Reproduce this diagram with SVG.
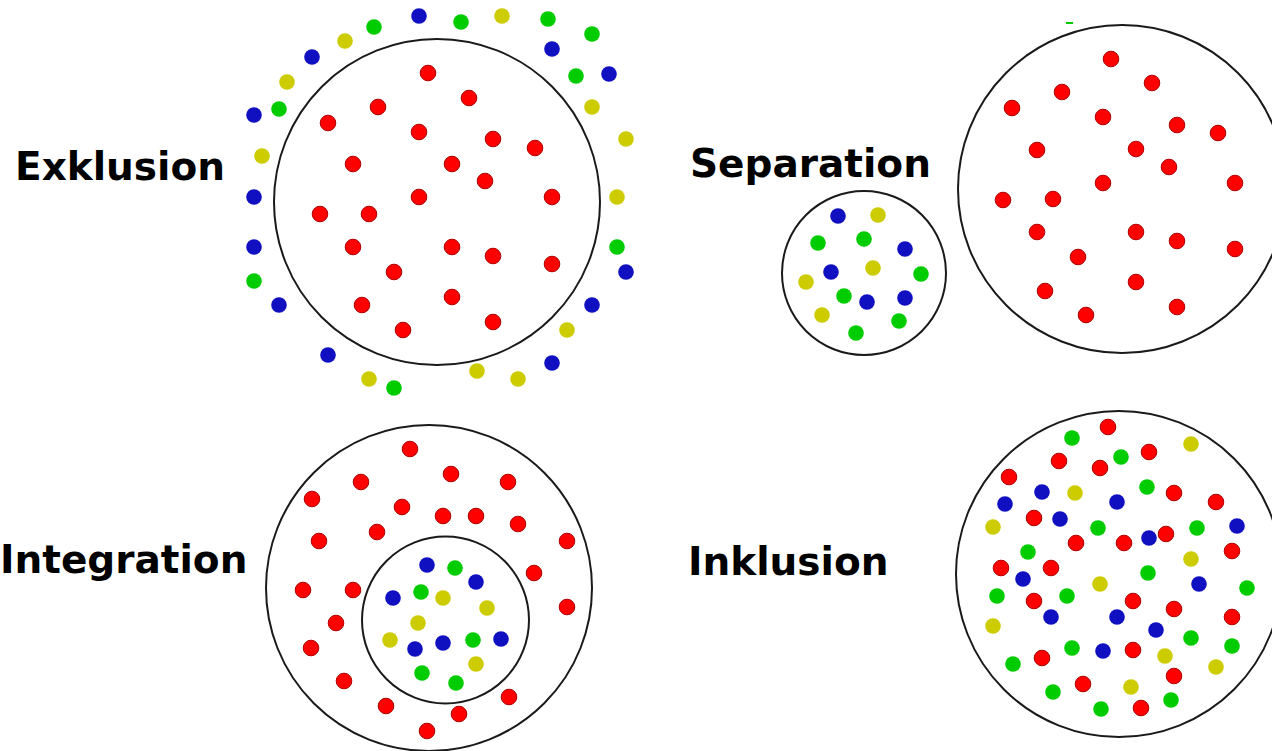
<svg xmlns="http://www.w3.org/2000/svg" width="1272" height="751" viewBox="0 0 1272 751">
<style>
.ring{fill:none;stroke:#1a1a1a;stroke-width:2}
.lbl{font-family:"DejaVu Sans",sans-serif;font-weight:bold;font-size:39px;fill:#000}
.r{fill:#ff0000;stroke:#b00000;stroke-width:1}
.g{fill:#00cc00}
.b{fill:#1010c0}
.y{fill:#cccc00}
circle.r,circle.g,circle.b,circle.y{r:7.8px}
</style>
<rect width="1272" height="751" fill="#fff"/>
<g id="exklusion">
<text class="lbl" x="15" y="180">Exklusion</text>
<circle class="ring" cx="437" cy="202" r="163"/>
<g>
<circle class="b" cx="419" cy="16" r="7.8"/><circle class="g" cx="374" cy="27" r="7.8"/><circle class="y" cx="345" cy="41" r="7.8"/><circle class="b" cx="312" cy="57" r="7.8"/><circle class="y" cx="287" cy="82" r="7.8"/><circle class="g" cx="279" cy="109" r="7.8"/><circle class="b" cx="254" cy="115" r="7.8"/><circle class="y" cx="262" cy="156" r="7.8"/><circle class="b" cx="254" cy="197" r="7.8"/><circle class="b" cx="254" cy="247" r="7.8"/><circle class="g" cx="254" cy="281" r="7.8"/><circle class="b" cx="279" cy="305" r="7.8"/><circle class="b" cx="328" cy="355" r="7.8"/><circle class="y" cx="369" cy="379" r="7.8"/><circle class="g" cx="394" cy="388" r="7.8"/>
<circle class="g" cx="461" cy="22" r="7.8"/><circle class="y" cx="502" cy="16" r="7.8"/><circle class="g" cx="548" cy="19" r="7.8"/><circle class="g" cx="592" cy="34" r="7.8"/><circle class="b" cx="552" cy="49" r="7.8"/><circle class="g" cx="576" cy="76" r="7.8"/><circle class="b" cx="609" cy="74" r="7.8"/><circle class="y" cx="592" cy="107" r="7.8"/><circle class="y" cx="626" cy="139" r="7.8"/><circle class="y" cx="617" cy="197" r="7.8"/><circle class="g" cx="617" cy="247" r="7.8"/><circle class="b" cx="626" cy="272" r="7.8"/><circle class="b" cx="592" cy="305" r="7.8"/><circle class="y" cx="567" cy="330" r="7.8"/><circle class="b" cx="552" cy="363" r="7.8"/><circle class="y" cx="477" cy="371" r="7.8"/><circle class="y" cx="518" cy="379" r="7.8"/>
<circle class="r" cx="428" cy="73" r="7.8"/><circle class="r" cx="378" cy="107" r="7.8"/><circle class="r" cx="328" cy="123" r="7.8"/><circle class="r" cx="419" cy="132" r="7.8"/><circle class="r" cx="353" cy="164" r="7.8"/><circle class="r" cx="419" cy="197" r="7.8"/><circle class="r" cx="469" cy="98" r="7.8"/><circle class="r" cx="493" cy="139" r="7.8"/><circle class="r" cx="535" cy="148" r="7.8"/><circle class="r" cx="452" cy="164" r="7.8"/><circle class="r" cx="485" cy="181" r="7.8"/><circle class="r" cx="552" cy="197" r="7.8"/><circle class="r" cx="320" cy="214" r="7.8"/><circle class="r" cx="369" cy="214" r="7.8"/><circle class="r" cx="353" cy="247" r="7.8"/><circle class="r" cx="394" cy="272" r="7.8"/><circle class="r" cx="362" cy="305" r="7.8"/><circle class="r" cx="403" cy="330" r="7.8"/><circle class="r" cx="452" cy="247" r="7.8"/><circle class="r" cx="493" cy="256" r="7.8"/><circle class="r" cx="552" cy="264" r="7.8"/><circle class="r" cx="452" cy="297" r="7.8"/><circle class="r" cx="493" cy="322" r="7.8"/>
</g>
</g>
<g id="separation">
<text class="lbl" x="690" y="177">Separation</text>
<circle class="ring" cx="864" cy="273" r="82"/>
<circle class="ring" cx="1122" cy="189" r="164"/>
<rect x="1066" y="22" width="7" height="2" fill="#00cc00"/>
<g>
<circle class="b" cx="838" cy="216" r="7.8"/><circle class="y" cx="878" cy="215" r="7.8"/><circle class="g" cx="818" cy="243" r="7.8"/><circle class="g" cx="864" cy="239" r="7.8"/><circle class="b" cx="905" cy="249" r="7.8"/><circle class="b" cx="831" cy="272" r="7.8"/><circle class="y" cx="873" cy="268" r="7.8"/><circle class="g" cx="921" cy="274" r="7.8"/><circle class="y" cx="806" cy="282" r="7.8"/><circle class="g" cx="844" cy="296" r="7.8"/><circle class="b" cx="867" cy="302" r="7.8"/><circle class="b" cx="905" cy="298" r="7.8"/><circle class="y" cx="822" cy="315" r="7.8"/><circle class="g" cx="899" cy="321" r="7.8"/><circle class="g" cx="856" cy="333" r="7.8"/>
<circle class="r" cx="1111" cy="59" r="7.8"/><circle class="r" cx="1152" cy="83" r="7.8"/><circle class="r" cx="1062" cy="92" r="7.8"/><circle class="r" cx="1012" cy="108" r="7.8"/><circle class="r" cx="1103" cy="117" r="7.8"/><circle class="r" cx="1177" cy="125" r="7.8"/><circle class="r" cx="1218" cy="133" r="7.8"/><circle class="r" cx="1037" cy="150" r="7.8"/><circle class="r" cx="1136" cy="149" r="7.8"/><circle class="r" cx="1169" cy="167" r="7.8"/><circle class="r" cx="1103" cy="183" r="7.8"/><circle class="r" cx="1235" cy="183" r="7.8"/><circle class="r" cx="1003" cy="200" r="7.8"/><circle class="r" cx="1053" cy="199" r="7.8"/><circle class="r" cx="1037" cy="232" r="7.8"/><circle class="r" cx="1136" cy="232" r="7.8"/><circle class="r" cx="1177" cy="241" r="7.8"/><circle class="r" cx="1235" cy="249" r="7.8"/><circle class="r" cx="1078" cy="257" r="7.8"/><circle class="r" cx="1045" cy="291" r="7.8"/><circle class="r" cx="1136" cy="282" r="7.8"/><circle class="r" cx="1086" cy="315" r="7.8"/><circle class="r" cx="1177" cy="307" r="7.8"/>
</g>
</g>
<g id="integration">
<text class="lbl" x="0" y="573">Integration</text>
<circle class="ring" cx="429" cy="588" r="163"/>
<circle class="ring" cx="445.5" cy="620" r="83.5"/>
<g>
<circle class="r" cx="410" cy="449" r="7.8"/><circle class="r" cx="451" cy="474" r="7.8"/><circle class="r" cx="361" cy="482" r="7.8"/><circle class="r" cx="508" cy="482" r="7.8"/><circle class="r" cx="312" cy="499" r="7.8"/><circle class="r" cx="402" cy="507" r="7.8"/><circle class="r" cx="443" cy="516" r="7.8"/><circle class="r" cx="476" cy="516" r="7.8"/><circle class="r" cx="518" cy="524" r="7.8"/><circle class="r" cx="377" cy="532" r="7.8"/><circle class="r" cx="319" cy="541" r="7.8"/><circle class="r" cx="567" cy="541" r="7.8"/><circle class="r" cx="534" cy="573" r="7.8"/><circle class="r" cx="303" cy="590" r="7.8"/><circle class="r" cx="353" cy="590" r="7.8"/><circle class="r" cx="567" cy="607" r="7.8"/><circle class="r" cx="336" cy="623" r="7.8"/><circle class="r" cx="311" cy="648" r="7.8"/><circle class="r" cx="344" cy="681" r="7.8"/><circle class="r" cx="509" cy="697" r="7.8"/><circle class="r" cx="386" cy="706" r="7.8"/><circle class="r" cx="459" cy="714" r="7.8"/><circle class="r" cx="427" cy="731" r="7.8"/>
<circle class="b" cx="427" cy="565" r="7.8"/><circle class="g" cx="455" cy="568" r="7.8"/><circle class="b" cx="476" cy="582" r="7.8"/><circle class="g" cx="421" cy="592" r="7.8"/><circle class="y" cx="443" cy="598" r="7.8"/><circle class="b" cx="393" cy="598" r="7.8"/><circle class="y" cx="487" cy="608" r="7.8"/><circle class="y" cx="418" cy="623" r="7.8"/><circle class="y" cx="390" cy="640" r="7.8"/><circle class="b" cx="415" cy="649" r="7.8"/><circle class="b" cx="443" cy="643" r="7.8"/><circle class="g" cx="473" cy="640" r="7.8"/><circle class="b" cx="501" cy="639" r="7.8"/><circle class="y" cx="476" cy="664" r="7.8"/><circle class="g" cx="422" cy="673" r="7.8"/><circle class="g" cx="456" cy="683" r="7.8"/>
</g>
</g>
<g id="inklusion">
<text class="lbl" x="688" y="575">Inklusion</text>
<circle class="ring" cx="1119" cy="574" r="163"/>
<g>
<circle class="r" cx="1108" cy="427" r="7.8"/><circle class="g" cx="1072" cy="438" r="7.8"/><circle class="y" cx="1191" cy="444" r="7.8"/><circle class="r" cx="1149" cy="452" r="7.8"/><circle class="g" cx="1121" cy="457" r="7.8"/><circle class="r" cx="1059" cy="461" r="7.8"/><circle class="r" cx="1100" cy="468" r="7.8"/><circle class="r" cx="1009" cy="477" r="7.8"/><circle class="g" cx="1147" cy="487" r="7.8"/><circle class="b" cx="1042" cy="492" r="7.8"/><circle class="y" cx="1075" cy="493" r="7.8"/><circle class="r" cx="1174" cy="493" r="7.8"/><circle class="b" cx="1117" cy="502" r="7.8"/><circle class="r" cx="1216" cy="502" r="7.8"/><circle class="b" cx="1005" cy="504" r="7.8"/><circle class="r" cx="1034" cy="518" r="7.8"/><circle class="b" cx="1060" cy="519" r="7.8"/><circle class="y" cx="993" cy="527" r="7.8"/><circle class="g" cx="1098" cy="528" r="7.8"/><circle class="g" cx="1197" cy="528" r="7.8"/><circle class="b" cx="1237" cy="526" r="7.8"/><circle class="r" cx="1166" cy="534" r="7.8"/><circle class="b" cx="1149" cy="538" r="7.8"/><circle class="r" cx="1076" cy="543" r="7.8"/><circle class="r" cx="1124" cy="543" r="7.8"/><circle class="r" cx="1232" cy="551" r="7.8"/><circle class="g" cx="1028" cy="552" r="7.8"/><circle class="y" cx="1191" cy="559" r="7.8"/><circle class="r" cx="1001" cy="568" r="7.8"/><circle class="r" cx="1051" cy="568" r="7.8"/><circle class="g" cx="1148" cy="573" r="7.8"/><circle class="b" cx="1023" cy="579" r="7.8"/><circle class="y" cx="1100" cy="584" r="7.8"/><circle class="b" cx="1199" cy="584" r="7.8"/><circle class="g" cx="1247" cy="588" r="7.8"/><circle class="g" cx="997" cy="596" r="7.8"/><circle class="g" cx="1067" cy="596" r="7.8"/><circle class="r" cx="1034" cy="601" r="7.8"/><circle class="r" cx="1133" cy="601" r="7.8"/><circle class="r" cx="1174" cy="609" r="7.8"/><circle class="b" cx="1051" cy="617" r="7.8"/><circle class="b" cx="1117" cy="617" r="7.8"/><circle class="r" cx="1232" cy="617" r="7.8"/><circle class="y" cx="993" cy="626" r="7.8"/><circle class="b" cx="1156" cy="630" r="7.8"/><circle class="g" cx="1191" cy="638" r="7.8"/><circle class="g" cx="1232" cy="646" r="7.8"/><circle class="g" cx="1072" cy="648" r="7.8"/><circle class="b" cx="1103" cy="651" r="7.8"/><circle class="r" cx="1133" cy="650" r="7.8"/><circle class="y" cx="1165" cy="656" r="7.8"/><circle class="r" cx="1042" cy="658" r="7.8"/><circle class="g" cx="1013" cy="664" r="7.8"/><circle class="y" cx="1216" cy="667" r="7.8"/><circle class="r" cx="1174" cy="676" r="7.8"/><circle class="r" cx="1083" cy="684" r="7.8"/><circle class="y" cx="1131" cy="687" r="7.8"/><circle class="g" cx="1053" cy="692" r="7.8"/><circle class="g" cx="1171" cy="700" r="7.8"/><circle class="g" cx="1101" cy="709" r="7.8"/><circle class="r" cx="1141" cy="708" r="7.8"/>
</g>
</g>
</svg>
